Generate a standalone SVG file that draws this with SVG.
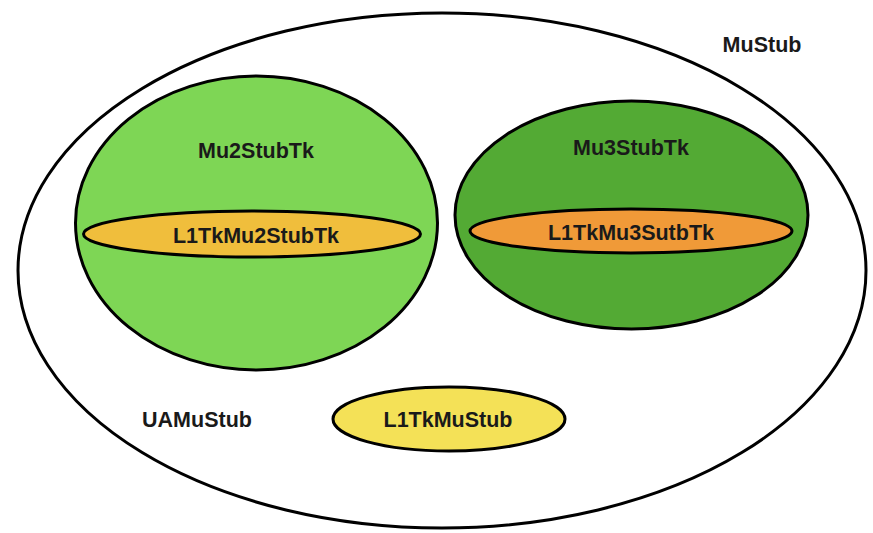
<svg xmlns="http://www.w3.org/2000/svg" width="873" height="533" viewBox="0 0 873 533">
<style>
.s{stroke:#000;stroke-width:3}
text{font-family:"Liberation Sans",Arial,sans-serif;font-weight:bold;font-size:21.5px;fill:#1a1a1a}
.c{text-anchor:middle}
</style>
<rect width="873" height="533" fill="#fff"/>
<g id="MuStub">
<ellipse class="s" cx="442" cy="270.5" rx="424" ry="257.5" fill="#fff"/>
<text x="762" y="52" class="c">MuStub</text>
</g>
<g id="UAMuStub">
<text x="197" y="427" class="c">UAMuStub</text>
</g>
<g id="Mu2StubTk">
<ellipse class="s" cx="256.5" cy="223" rx="181" ry="147" fill="#7ED655"/>
<text x="256" y="158" class="c">Mu2StubTk</text>
</g>
<g id="L1TkMu2StubTk">
<ellipse class="s" cx="252" cy="234" rx="168.5" ry="23" fill="#F0BE3C"/>
<text x="256" y="243" class="c">L1TkMu2StubTk</text>
</g>
<g id="Mu3StubTk">
<ellipse class="s" cx="631.5" cy="215" rx="176.5" ry="114" fill="#53AA34"/>
<text x="631" y="155" class="c">Mu3StubTk</text>
</g>
<g id="L1TkMu3SutbTk">
<ellipse class="s" cx="631" cy="231" rx="161" ry="22" fill="#F09A38"/>
<text x="631" y="240" class="c">L1TkMu3SutbTk</text>
</g>
<g id="L1TkMuStub">
<ellipse class="s" cx="449" cy="419" rx="116" ry="32" fill="#F4E157"/>
<text x="448" y="427" class="c">L1TkMuStub</text>
</g>
<g id="connectors"/>
</svg>
